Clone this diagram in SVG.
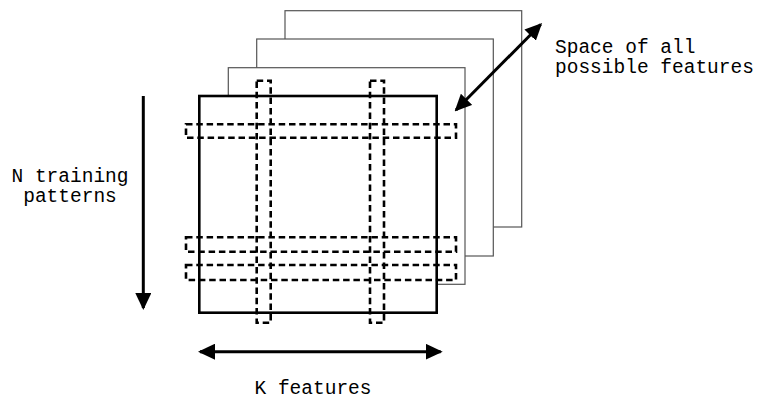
<svg xmlns="http://www.w3.org/2000/svg" width="757" height="399" viewBox="0 0 757 399">
  <style>
    .sheet { fill: #fff; stroke: #555; stroke-width: 1.2; }
    .main { fill: #fff; stroke: #000; stroke-width: 2.6; }
    .dash { fill: none; stroke: #000; stroke-width: 2.6; stroke-dasharray: 6.5 3.8; }
    .arrow { fill: none; stroke: #000; stroke-width: 3; }
    .lbl { font-family: "Courier New", Courier, "Nimbus Mono PS", FreeMono, "Liberation Mono", monospace; font-size: 19.5px; fill: #000; }
  </style>
  <defs>
    <marker id="ah" viewBox="0 0 17 16" markerWidth="17" markerHeight="16" refX="15" refY="8" orient="auto-start-reverse" markerUnits="userSpaceOnUse">
      <path d="M0,0 L17,8 L0,16 z" fill="#000"/>
    </marker>
  </defs>

  <g id="sheet-back"><rect class="sheet" x="285" y="10.7" width="236.7" height="216.3"/></g>
  <g id="sheet-middle"><rect class="sheet" x="256.7" y="39" width="236.6" height="217"/></g>
  <g id="sheet-front"><rect class="sheet" x="228.3" y="67.7" width="236.7" height="216.6"/></g>
  <g id="matrix"><rect class="main" x="199.3" y="96" width="237.4" height="216.7"/></g>

  <g id="feature-columns">
    <rect class="dash" x="256.7" y="80.7" width="14" height="242"/>
    <rect class="dash" x="370" y="80.7" width="14" height="242"/>
  </g>
  <g id="pattern-rows">
    <rect class="dash" x="186" y="124.3" width="270" height="13.4"/>
    <rect class="dash" x="186" y="237.3" width="270" height="14.4"/>
    <rect class="dash" x="186" y="265" width="270" height="15"/>
  </g>

  <g id="connectors">
    <line class="arrow" x1="143.3" y1="96" x2="143.3" y2="308" marker-end="url(#ah)"/>
    <line class="arrow" x1="200" y1="351.7" x2="440.7" y2="351.7" marker-start="url(#ah)" marker-end="url(#ah)"/>
    <line class="arrow" x1="456" y1="110" x2="540.7" y2="24.5" marker-start="url(#ah)" marker-end="url(#ah)"/>
  </g>

  <g id="label-n">
    <text class="lbl" x="70" y="181.5" text-anchor="middle">N training</text>
    <text class="lbl" x="70" y="201.5" text-anchor="middle">patterns</text>
  </g>
  <g id="label-k">
    <text class="lbl" x="313" y="393.5" text-anchor="middle">K features</text>
  </g>
  <g id="label-space">
    <text class="lbl" x="555" y="53.3">Space of all</text>
    <text class="lbl" x="555" y="73.3">possible features</text>
  </g>
</svg>
